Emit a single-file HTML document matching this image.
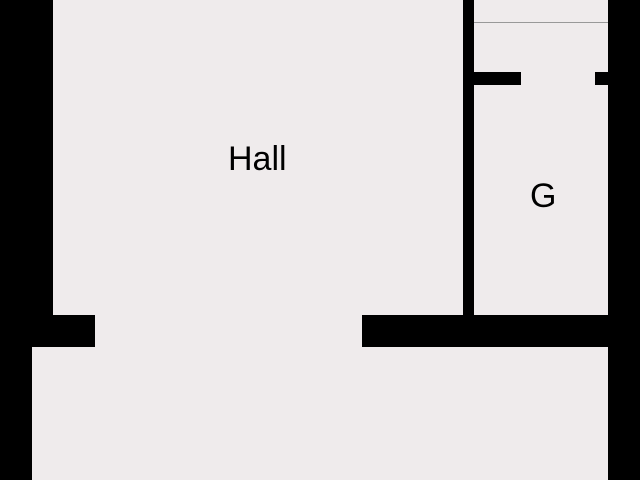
<!DOCTYPE html>
<html><head><style>
html,body{margin:0;padding:0}
body{width:640px;height:480px;background:#efebec;position:relative;overflow:hidden;font-family:"Liberation Sans",sans-serif}
.b{position:absolute;background:#000}
.t{position:absolute;font-size:34px;color:#000;line-height:1}
</style></head><body>
<div class="b" style="left:0;top:0;width:53px;height:347px"></div>
<div class="b" style="left:0;top:347px;width:32px;height:133px"></div>
<div class="b" style="left:0;top:315px;width:95px;height:32px"></div>
<div class="b" style="left:362px;top:315px;width:278px;height:32px"></div>
<div class="b" style="left:463px;top:0;width:11px;height:316px"></div>
<div class="b" style="left:608px;top:0;width:32px;height:480px"></div>
<div class="b" style="left:474px;top:72px;width:47px;height:13px"></div>
<div class="b" style="left:595px;top:72px;width:13px;height:13px"></div>
<div style="position:absolute;left:474px;top:22px;width:134px;height:1px;background:#999"></div>
<div class="t" style="left:228px;top:142px">Hall</div>
<div class="t" style="left:530px;top:179px">G</div>
</body></html>
